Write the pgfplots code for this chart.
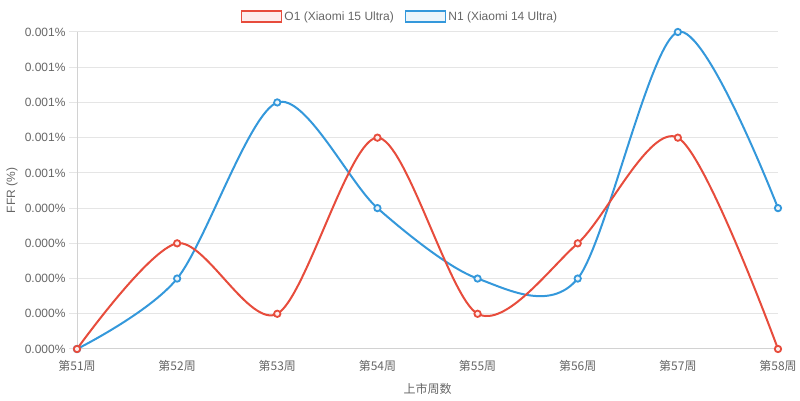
\documentclass[border=0pt]{standalone}
\usepackage{pgfplots}
\pgfplotsset{compat=1.18}
\usepackage{fontspec}
\setmainfont{Liberation Sans}
\newfontfamily\cjk{Noto Sans CJK SC}
\definecolor{cred}{RGB}{231,76,60}
\definecolor{cblue}{RGB}{52,152,219}
\definecolor{credf}{RGB}{253,237,236}
\definecolor{cbluef}{RGB}{235,245,251}
\definecolor{txt}{RGB}{102,102,102}
\definecolor{gridc}{RGB}{229,229,229}
\definecolor{axisc}{RGB}{210,210,210}
\begin{document}
\begin{tikzpicture}[x=1pt,y=1pt]
\useasboundingbox (0,0) rectangle (800,401);
\begin{axis}[
  at={(77pt,52pt)}, anchor=south west,
  scale only axis, width=701pt, height=317pt,
  xmin=0, xmax=7, ymin=0, ymax=0.0009,
  clip=false,
  axis lines*=left,
  axis line style={draw=axisc, line width=1pt},
  xtick={0,1,2,3,4,5,6,7},
  xticklabels={第51周,第52周,第53周,第54周,第55周,第56周,第57周,第58周},
  xticklabel style={font=\cjk\fontsize{12pt}{14pt}\selectfont, text=txt},
  x tick style={draw=none},
  ytick={0,0.0001,0.0002,0.0003,0.0004,0.0005,0.0006,0.0007,0.0008,0.0009},
  yticklabels={0.000\%,0.000\%,0.000\%,0.000\%,0.000\%,0.001\%,0.001\%,0.001\%,0.001\%,0.001\%},
  scaled y ticks=false,
  yticklabel style={font=\fontsize{12pt}{14pt}\selectfont, text=txt},
  y tick style={draw=gridc, line width=1pt},
  tick align=outside,
  major tick length=8pt,
  ymajorgrids,
  grid style={draw=gridc, line width=1pt},
  every axis y label/.style={at={([xshift=-65pt]axis description cs:0,0.5)}, anchor=center, rotate=90},
  every axis x label/.style={at={([yshift=-40pt]axis description cs:0.5,0)}, anchor=center},
  ylabel={FFR (\%)},
  xlabel={\cjk 上市周数},
  label style={font=\fontsize{12pt}{14pt}\selectfont, text=txt},
  legend style={at={(axis description cs:0.4608,1.0489)}, anchor=center, draw=none, fill=none,
    font=\fontsize{12pt}{14pt}\selectfont, text=txt, inner sep=0pt,
    /tikz/every even column/.append style={column sep=9pt}},
  legend columns=2,
]
\addlegendimage{legend image code/.code={\draw[cred, line width=1.5pt, fill=credf] (0pt,-5.5pt) rectangle (40pt,5.5pt);}}
\addlegendentry{O1 (Xiaomi 15 Ultra)}
\addlegendimage{legend image code/.code={\draw[cblue, line width=1.5pt, fill=cbluef] (0pt,-5.5pt) rectangle (40pt,5.5pt);}}
\addlegendentry{N1 (Xiaomi 14 Ultra)}
\addplot[cblue, line width=2pt, smooth, tension=0.5, mark=*, mark size=3.2pt,
  mark options={fill=cbluef, line width=1.8pt}, forget plot]
  coordinates {(0,0) (1,0.0002) (2,0.0007) (3,0.0004) (4,0.0002) (5,0.0002) (6,0.0009) (7,0.0004)};
\addplot[cred, line width=2pt, smooth, tension=0.5, mark=*, mark size=3.2pt,
  mark options={fill=credf, line width=1.8pt}, forget plot]
  coordinates {(0,0) (1,0.0003) (2,0.0001) (3,0.0006) (4,0.0001) (5,0.0003) (6,0.0006) (7,0)};
\end{axis}
\end{tikzpicture}
\end{document}
